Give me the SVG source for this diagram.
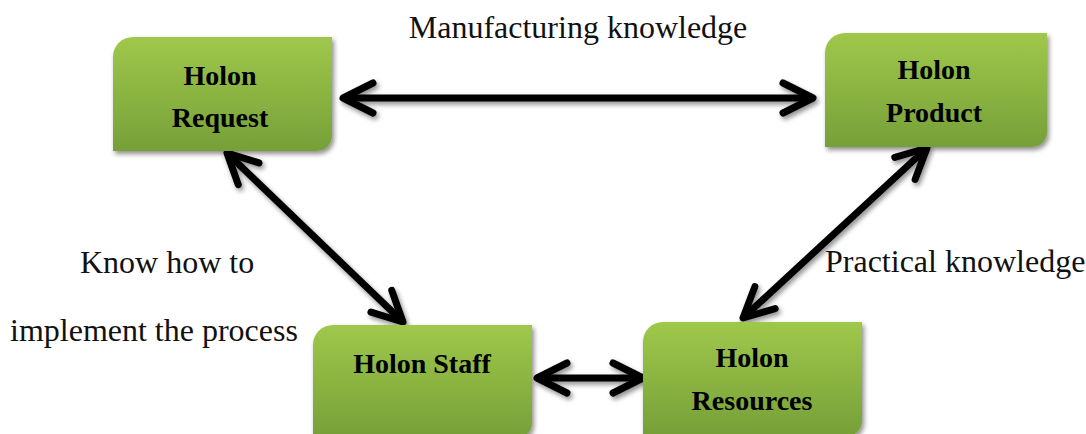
<svg xmlns="http://www.w3.org/2000/svg" width="1086" height="434" viewBox="0 0 1086 434">
  <defs>
    <linearGradient id="holonFill" x1="0" y1="0" x2="0" y2="1">
      <stop offset="0" stop-color="#9fc84b"/>
      <stop offset="1" stop-color="#76a038"/>
    </linearGradient>
    <filter id="softShadow" x="-10%" y="-10%" width="130%" height="140%">
      <feGaussianBlur in="SourceAlpha" stdDeviation="2.5"/>
      <feOffset dx="2" dy="3" result="blur"/>
      <feComponentTransfer><feFuncA type="linear" slope="0.45"/></feComponentTransfer>
      <feMerge><feMergeNode/><feMergeNode in="SourceGraphic"/></feMerge>
    </filter>
    <marker id="chevron" markerUnits="userSpaceOnUse" viewBox="-40 -25 50 50" refX="0" refY="0" markerWidth="50" markerHeight="50" orient="auto-start-reverse" overflow="visible">
      <path d="M-30,-15 L0,0 L-30,15" fill="none" stroke="#000" stroke-width="7" stroke-linecap="round" stroke-linejoin="round"/>
    </marker>
  </defs>
  <style>
    .holon { fill: url(#holonFill); filter: url(#softShadow); }
    .title { font-family: "Liberation Serif", "Times New Roman", serif; font-weight: bold; font-size: 28px; fill: #000; text-anchor: middle; }
    .label { font-family: "Liberation Serif", "Times New Roman", serif; font-size: 32px; fill: #111; }
    .link { fill: none; stroke: #000; stroke-width: 7; stroke-linecap: butt; marker-start: url(#chevron); marker-end: url(#chevron); }
  </style>

  <rect width="1086" height="434" fill="#fff"/>

  <!-- edge labels -->
  <text class="label" x="578" y="38" text-anchor="middle">Manufacturing knowledge</text>
  <text class="label" x="80" y="273">Know how to</text>
  <text class="label" x="10" y="341">implement the process</text>
  <text class="label" x="825" y="272">Practical knowledge</text>

  <!-- connectors -->
  <g id="connectors" filter="url(#softShadow)">
    <line class="link" x1="343" y1="98" x2="813" y2="98"/>
    <line class="link" x1="227" y1="153" x2="403" y2="322"/>
    <line class="link" x1="927" y1="148" x2="743" y2="318"/>
    <line class="link" x1="537" y1="378" x2="643" y2="378"/>
  </g>

  <g id="holon-request">
    <path class="holon" d="M133,37 H332 V136 A15,15 0 0 1 317,151 H113 V57 A20,20 0 0 1 133,37 Z"/>
    <text class="title" x="220" y="85">Holon</text>
    <text class="title" x="220" y="127">Request</text>
  </g>

  <g id="holon-product">
    <path class="holon" d="M845,33 H1047 V132 A15,15 0 0 1 1032,147 H825 V53 A20,20 0 0 1 845,33 Z"/>
    <text class="title" x="934" y="79">Holon</text>
    <text class="title" x="934" y="122">Product</text>
  </g>

  <g id="holon-staff">
    <path class="holon" d="M333,325 H532 V423 A15,15 0 0 1 517,438 H313 V345 A20,20 0 0 1 333,325 Z"/>
    <text class="title" x="422" y="373">Holon Staff</text>
  </g>

  <g id="holon-resources">
    <path class="holon" d="M663,322 H862 V421 A15,15 0 0 1 847,436 H643 V342 A20,20 0 0 1 663,322 Z"/>
    <text class="title" x="752" y="367">Holon</text>
    <text class="title" x="752" y="410">Resources</text>
  </g>
</svg>
